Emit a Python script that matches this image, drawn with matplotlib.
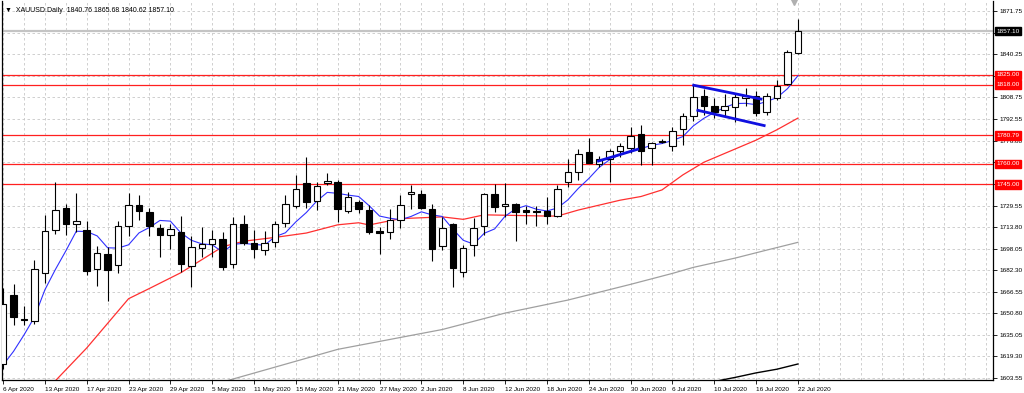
import numpy as np
import matplotlib
matplotlib.use("Agg")
import matplotlib.pyplot as plt

plt.rcParams['font.family'] = ['Liberation Sans', 'DejaVu Sans']

# --- data (XAUUSD daily) ---
opens = [1614, 1664, 1647, 1645, 1680, 1712, 1728, 1716, 1711.5, 1683,
         1694, 1686, 1714.6, 1730, 1725, 1713, 1708, 1710.6, 1685.4, 1698.6,
         1701.3, 1705, 1687, 1716, 1702, 1697, 1703, 1717, 1729, 1746,
         1733, 1746, 1747, 1725.6, 1732, 1726, 1711, 1710.5, 1719, 1737.8,
         1738, 1727, 1700, 1716, 1681, 1700.5, 1715, 1738, 1729.3, 1730.5,
         1726, 1725.8, 1725.5, 1722, 1747, 1754, 1769, 1759.7, 1763.4, 1769.7,
         1771.4, 1781.6, 1771.4, 1777, 1773, 1785.3, 1795, 1809.6, 1802, 1799.4,
         1801.8, 1808, 1810, 1798.2, 1808, 1818.2, 1840.76]
highs = [1669, 1672, 1656, 1690, 1723, 1747, 1731, 1738.5, 1718.5, 1700,
         1699, 1718.5, 1738.5, 1737, 1727.6, 1716, 1716, 1722, 1707, 1714,
         1712, 1710, 1721, 1723, 1712, 1711, 1718.5, 1737, 1752, 1765,
         1747, 1753.6, 1748.3, 1739.7, 1733.6, 1730, 1713.7, 1727, 1737, 1744.6,
         1741, 1731, 1721, 1717, 1701, 1720.7, 1739, 1745, 1745.8, 1731.2,
         1729.3, 1729.2, 1736, 1744.6, 1763.4, 1770.7, 1779, 1765.8, 1770.7, 1775,
         1787.2, 1788.4, 1776.3, 1778, 1787, 1797.4, 1818, 1815, 1808.5, 1811,
         1812, 1815.3, 1813.3, 1811.6, 1821, 1843.3, 1865.68]
lows = [1610, 1642, 1642, 1643, 1673, 1709, 1708, 1710.5, 1679, 1671,
        1660, 1680, 1707, 1719, 1707, 1692, 1698, 1681, 1670, 1692,
        1692, 1682.5, 1684, 1700.8, 1691, 1693.5, 1699, 1714, 1727.6, 1727.6,
        1726, 1744.4, 1717.3, 1724, 1724, 1709, 1694, 1705, 1713, 1726.8,
        1726.8, 1689, 1697, 1670, 1677.6, 1692.7, 1708, 1725, 1721.4, 1704,
        1716, 1714.6, 1716, 1721, 1743, 1748, 1760.5, 1758, 1747, 1765,
        1768, 1759.2, 1759.2, 1775.5, 1769.7, 1773.8, 1791.6, 1795.7, 1793.3, 1795,
        1791, 1802.3, 1795, 1795.7, 1807, 1818, 1840.62]
closes = [1658, 1648, 1646, 1683, 1711, 1726, 1716, 1718, 1682, 1695,
          1682.5, 1715, 1730, 1725.7, 1714.6, 1708.3, 1712.2, 1687, 1699, 1701.5,
          1705, 1685, 1716, 1702, 1698, 1702, 1716, 1730.5, 1742, 1732,
          1744, 1747.3, 1727, 1735.6, 1727, 1710.5, 1709.3, 1719, 1730, 1739.3,
          1727.6, 1698, 1713, 1684, 1698.4, 1713.4, 1737.8, 1728.7, 1730.7, 1725,
          1725.2, 1725, 1722, 1742, 1754.3, 1767, 1761, 1763.4, 1769.7, 1773,
          1780.4, 1769.7, 1775.1, 1776.3, 1784, 1795, 1808.7, 1802.3, 1798.2, 1802.3,
          1809.1, 1809.8, 1797, 1809.6, 1817, 1841.8, 1857.10]

ma_fast = [1613, 1623, 1635, 1648, 1668, 1682.8, 1696.4, 1710.8, 1710.6, 1707.4,
           1698.7, 1698.5, 1700.9, 1709.6, 1713.6, 1718.7, 1718.2, 1709.6, 1704.2, 1701.6,
           1700.9, 1695.5, 1701.3, 1701.9, 1701.2, 1700.6, 1706.8, 1709.7, 1717.7, 1724.5,
           1732.9, 1739.2, 1738.5, 1737.2, 1736.2, 1729.5, 1721.9, 1720.3, 1719.2, 1721.6,
           1725.0, 1722.8, 1721.6, 1712.4, 1704.2, 1701.4, 1709.3, 1712.5, 1721.8, 1727.1,
           1729.5, 1726.9, 1725.6, 1727.8, 1733.7, 1742.1, 1749.3, 1757.5, 1763.1, 1766.8,
           1769.5, 1771.2, 1773.6, 1774.9, 1777.1, 1780.0, 1787.8, 1793.3, 1797.6, 1801.3,
           1804.1, 1804.3, 1803.3, 1805.6, 1808.5, 1815.0, 1824.5]

# slower averages, read at selected bars
ma_mid_idx = [5, 8, 12, 14, 17, 19, 21, 23, 26, 29, 32, 34, 35, 38, 42, 44, 46,
              52, 53, 55, 59, 61, 63, 65, 67, 72, 74, 76]
ma_mid = [1601.5, 1625.5, 1661.5, 1669, 1680.5, 1690, 1699.5, 1703.5, 1706.3, 1709.5,
          1715.5, 1717.0, 1715.4, 1720, 1721.3, 1719.5, 1722.8, 1721.9, 1721.9, 1726.3,
          1733.5, 1736.2, 1741, 1752, 1761.2, 1777.4, 1785, 1793.5]
ma_slow_idx = [20, 32, 42, 48, 54, 60, 64, 66, 70, 73, 76]
ma_slow = [1598.5, 1624.5, 1639, 1651, 1660.5, 1672, 1680, 1684.4, 1691.2, 1697, 1702.7]
ma_long_idx = [68, 70, 72, 74, 76]
ma_long = [1601, 1604, 1607.3, 1610, 1613.8]

levels = [1825.00, 1818.00, 1780.79, 1760.00, 1745.00]
bid = 1857.10

date_idx = list(range(0, 77, 4))
date_labels = ['6 Apr 2020', '13 Apr 2020', '17 Apr 2020', '23 Apr 2020', '29 Apr 2020',
               '5 May 2020', '11 May 2020', '15 May 2020', '21 May 2020', '27 May 2020',
               '2 Jun 2020', '8 Jun 2020', '12 Jun 2020', '18 Jun 2020', '24 Jun 2020',
               '30 Jun 2020', '6 Jul 2020', '10 Jul 2020', '16 Jul 2020', '22 Jul 2020']

ytick_vals = [1603.55, 1619.30, 1635.05, 1650.80, 1666.55, 1682.30, 1698.05, 1713.80,
              1729.55, 1745.30, 1761.05, 1776.80, 1792.55, 1808.75, 1824.50, 1840.25,
              1856.00, 1871.75]
ytick_labels = ['1603.55', '1619.30', '1635.05', '1650.80', '1666.55', '1682.30', '1698.05',
                '1713.80', '1729.55', '', '', '1776.80', '1792.55', '1808.75', '', '1840.25',
                '', '1871.75']

# flag pattern lines
flag_upper = ([65.9, 72.6], [1817.7, 1807.2])
flag_lower = ([66.3, 72.9], [1799.4, 1787.8])
pole = ([56.8, 60.8], [1761.8, 1771.0])

fig = plt.figure(figsize=(10.24, 3.93), dpi=100)
ax = fig.add_axes([2 / 1024, 13 / 393, 991 / 1024, 379 / 393])

x = np.arange(len(closes))
o = np.array(opens); c = np.array(closes)
h = np.array(highs); l = np.array(lows)

# grid
for v in ytick_vals:
    ax.axhline(v, color='#c8c8c8', lw=0.6, ls=(0, (3, 3)), zorder=0)
for gx in range(0, 96, 2):
    ax.axvline(gx, color='#c8c8c8', lw=0.6, ls=(0, (3, 3)), zorder=0)

ax.axhline(bid, color='#c4c4c4', lw=1.6, zorder=1)
for lv in levels:
    ax.axhline(lv, color='#ff2020', lw=0.9, zorder=1)

# moving averages
ax.plot(ma_long_idx, ma_long, color='black', lw=1.0, zorder=2)
ax.plot(ma_slow_idx, ma_slow, color='#a0a0a0', lw=0.9, zorder=2)
ax.plot(ma_mid_idx, ma_mid, color='#ff3030', lw=0.9, zorder=2)
ax.plot(x, ma_fast, color='#3030ff', lw=0.8, zorder=2)

# candles
ax.vlines(x, l, h, color='black', lw=0.8, zorder=3)
up = c >= o
bottoms = np.minimum(o, c)
heights = np.maximum(np.abs(c - o), 0.4)
ax.bar(x[up], heights[up], bottom=bottoms[up], width=0.62, color='white',
       edgecolor='black', linewidth=0.8, zorder=4)
ax.bar(x[~up], heights[~up], bottom=bottoms[~up], width=0.62, color='black',
       edgecolor='black', linewidth=0.8, zorder=4)

# trend lines
for xs, ys in (flag_upper, flag_lower, pole):
    ax.plot(xs, ys, color='#1010e0', lw=2.0, zorder=5, solid_capstyle='butt')

ax.set_xlim(-0.1, 94.65)
ax.set_ylim(1602.1, 1879.06)

fs = 4.6
ax.yaxis.tick_right()
ax.set_yticks(ytick_vals)
ax.set_yticklabels(ytick_labels)
ax.tick_params(axis='y', length=3, width=0.6, labelsize=fs, pad=1.5)
ax.set_xticks(date_idx)
ax.set_xticklabels(date_labels, ha='left')
ax.tick_params(axis='x', length=3, width=0.6, labelsize=fs, pad=2)
ax.grid(False)
ax.spines['top'].set_visible(False)
for s in ('left', 'bottom', 'right'):
    ax.spines[s].set_linewidth(0.9)

# price boxes on the right axis
tr = ax.get_yaxis_transform()
for lv in levels:
    ax.text(1.0035, lv, f'{lv:.2f}', transform=tr, fontsize=fs, color='white',
            va='center', ha='left', zorder=10, clip_on=False,
            bbox=dict(boxstyle='square,pad=0.25', fc='#ff0000', ec='#ff0000'))
ax.text(1.0035, bid, f'{bid:.2f}', transform=tr, fontsize=fs, color='white',
        va='center', ha='left', zorder=10, clip_on=False,
        bbox=dict(boxstyle='square,pad=0.25', fc='black', ec='black'))

# header and shift marker
ax.text(0.003, 0.985, '\u25bc  XAUUSD.Daily  1840.76 1865.68 1840.62 1857.10',
        transform=ax.transAxes, fontsize=5.0, va='top', ha='left')
ax.plot([75.6], [1878.0], marker='v', color='#b0b0b0', markersize=4, clip_on=False, zorder=6)

fig.savefig('out.png', dpi=100, facecolor='white')
